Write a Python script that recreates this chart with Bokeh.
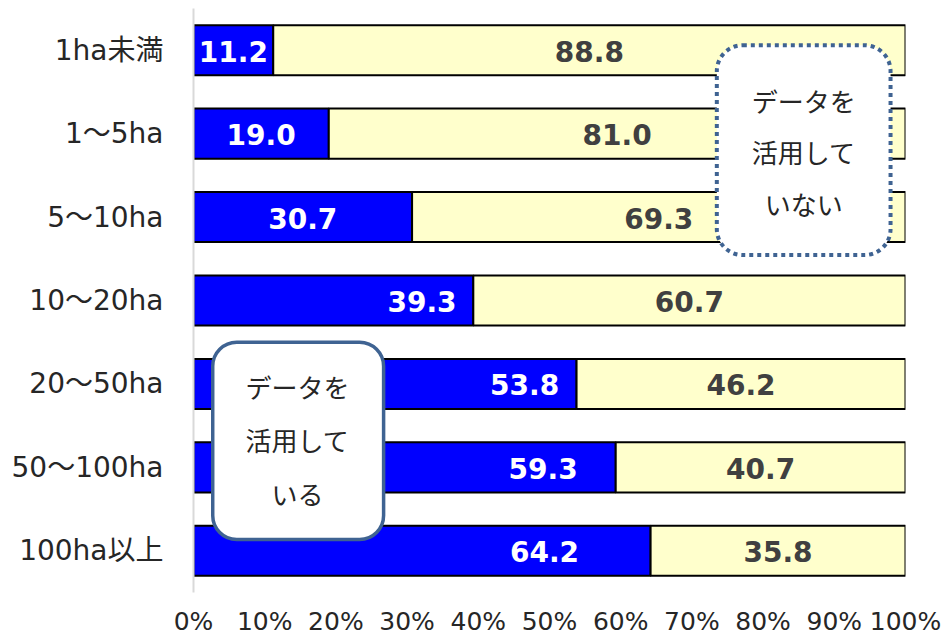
from bokeh.plotting import figure
from bokeh.models import ColumnDataSource, Range1d, FixedTicker, LabelSet, BoxAnnotation, Label
from bokeh.core.properties import value
from bokeh.embed import file_html
from bokeh.resources import INLINE

categories = ["1ha未満", "1～5ha", "5～10ha", "10～20ha", "20～50ha", "50～100ha", "100ha以上"]
using = [11.2, 19.0, 30.7, 39.3, 53.8, 59.3, 64.2]
not_using = [88.8, 81.0, 69.3, 60.7, 46.2, 40.7, 35.8]
# where the "using" value labels sit, in % along the bar (as placed in the original)
using_label_at = [5.6, 9.5, 15.35, 32.1, 46.5, 49.1, 49.3]
x_ticks = [0, 10, 20, 30, 40, 50, 60, 70, 80, 90, 100]
x_tick_labels = ["0%", "10%", "20%", "30%", "40%", "50%", "60%", "70%", "80%", "90%", "100%"]
box_used = ["データを", "活用して", "いる"]
box_not_used = ["データを", "活用して", "いない"]

FONT = "DejaVu Sans"
MIXFONT = "DejaVu Sans, Noto Sans CJK JP"
JFONT = "Noto Sans CJK JP"

ys = list(range(len(categories)))
src = ColumnDataSource(dict(
    y=ys,
    a_end=using,
    b_end=[u + n for u, n in zip(using, not_using)],
    a_lab=using_label_at,
    b_mid=[u + n / 2 for u, n in zip(using, not_using)],
    a_txt=[f"{v:.1f}" for v in using],
    b_txt=[f"{v:.1f}" for v in not_using],
))

p = figure(width=946, height=639, output_backend="svg", toolbar_location=None,
           x_range=Range1d(0, 100), y_range=Range1d(6.5, -0.5),
           min_border_left=193, min_border_right=41, min_border_top=8, min_border_bottom=47)
p.outline_line_color = None
p.grid.grid_line_color = None
p.background_fill_color = "white"
p.border_fill_color = "white"

p.hbar(y="y", left=0, right="a_end", height=0.6, source=src,
       fill_color="#0000FF", line_color="black", line_width=2)
p.hbar(y="y", left="a_end", right="b_end", height=0.6, source=src,
       fill_color="#FFFFCC", line_color="black", line_width=2)

p.add_layout(LabelSet(x="a_lab", y="y", text="a_txt", source=src,
                      text_align="center", text_baseline="middle",
                      text_font=value(FONT), text_font_style="bold", text_font_size="28px",
                      text_color="white", y_offset=-1))
p.add_layout(LabelSet(x="b_mid", y="y", text="b_txt", source=src,
                      text_align="center", text_baseline="middle",
                      text_font=value(FONT), text_font_style="bold", text_font_size="28px",
                      text_color="#404040", y_offset=-1))

# axes
p.yaxis.ticker = FixedTicker(ticks=ys)
p.yaxis.major_label_overrides = {i: c for i, c in enumerate(categories)}
p.yaxis.axis_line_color = "#D9D9D9"
p.yaxis.axis_line_width = 2
p.yaxis.major_tick_line_color = None
p.yaxis.minor_tick_line_color = None
p.yaxis.major_label_text_font = MIXFONT
p.yaxis.major_label_text_font_size = "28px"
p.yaxis.major_label_text_color = "#262626"
p.yaxis.major_label_standoff = 24

p.xaxis.ticker = FixedTicker(ticks=x_ticks)
p.xaxis.major_label_overrides = {t: l for t, l in zip(x_ticks, x_tick_labels)}
p.xaxis.axis_line_color = None
p.xaxis.major_tick_line_color = None
p.xaxis.minor_tick_line_color = None
p.xaxis.major_label_text_font = FONT
p.xaxis.major_label_text_font_size = "25px"
p.xaxis.major_label_text_color = "#262626"
p.xaxis.major_label_standoff = 8

# callout boxes
p.add_layout(BoxAnnotation(left=73.5, right=97.9, top=-0.06, bottom=2.455,
                           fill_color="white", fill_alpha=1.0,
                           line_color="#3F6392", line_width=4, line_dash="4 4",
                           line_alpha=1.0, border_radius=26))
p.add_layout(BoxAnnotation(left=2.7, right=26.7, top=3.5, bottom=5.866,
                           fill_color="white", fill_alpha=1.0,
                           line_color="#3F6392", line_width=3.5,
                           line_alpha=1.0, border_radius=24))

for txt, yy in zip(box_not_used, [0.60, 1.22, 1.84]):
    p.add_layout(Label(x=85.7, y=yy, text=txt, text_align="center", text_baseline="middle",
                       text_font=JFONT, text_font_size="26px", text_color="#262626"))
for txt, yy in zip(box_used, [4.03, 4.67, 5.31]):
    p.add_layout(Label(x=14.6, y=yy, text=txt, text_align="center", text_baseline="middle",
                       text_font=JFONT, text_font_size="26px", text_color="#262626"))

open("out.html", "w").write(file_html(p, INLINE))
